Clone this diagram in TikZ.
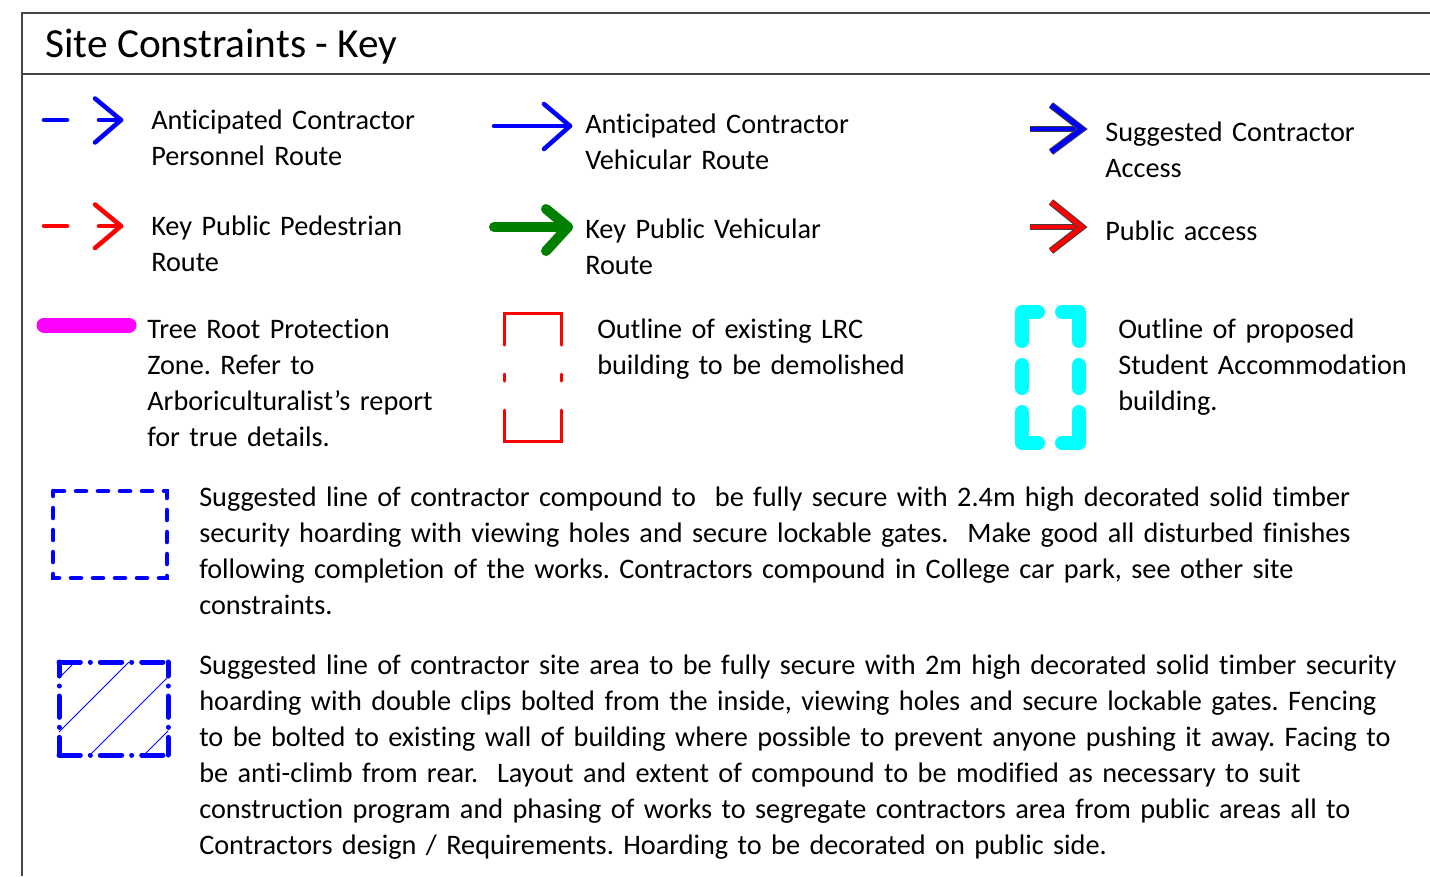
\documentclass[tikz,border=0pt]{standalone}
\usepackage{fontspec}
\setmainfont{Carlito}[Ligatures={TeX,NoCommon}]

\definecolor{keyblue}{RGB}{0,0,255}
\definecolor{keyred}{RGB}{255,0,0}
\definecolor{keygreen}{RGB}{0,128,0}
\definecolor{keymagenta}{RGB}{255,0,255}
\definecolor{keycyan}{RGB}{0,255,255}
\definecolor{framegrey}{RGB}{70,70,70}

\tikzset{
  keytext/.style={anchor=base west, inner sep=0pt, align=left, text width=#1,
    font=\fontsize{21.2pt}{27pt}\selectfont},
  keytext/.default=240pt,
  routeline/.style={line width=3.4pt, line cap=round, line join=round},
  accessline/.style={line width=0.8pt, draw=black!75, double distance=3.6pt,
    line cap=butt, line join=miter},
  dashdotline/.style={keyblue, line width=3.75pt, line cap=round,
    dash pattern=on 16pt off 7.5pt on 0.01pt off 7.5pt}
}

\begin{document}
\frenchspacing
\begin{tikzpicture}[x=0.75pt, y=-0.75pt]
\useasboundingbox (0,0) rectangle (1430,876);

        \draw[framegrey, line width=1pt] (1430,13) -- (22,13) -- (22,876);
        \draw[framegrey, line width=1pt] (22,74) -- (1430,74);
        \node[anchor=base west, inner sep=0pt, font=\fontsize{31pt}{37pt}\selectfont] (title) at (45,57) {Site Constraints - Key};

        % routes
        \draw[routeline, keyblue] (44,120) -- (67,120);
        \draw[routeline, keyblue] (99,120) -- (121,120);
        \draw[routeline, keyblue] (95,98.5) -- (121,120) -- (95,142.5);
        \draw[routeline, keyred] (44,226) -- (67,226);
        \draw[routeline, keyred] (99,226) -- (121,226);
        \draw[routeline, keyred] (95,204.5) -- (121,226) -- (95,248);

        \draw[routeline, keyblue] (494,126) -- (570,126);
        \draw[routeline, keyblue] (544,104) -- (570,126) -- (544,149);
        \draw[routeline, keygreen, line width=7.5pt] (494,227) -- (568,227);
        \draw[routeline, keygreen, line width=7.5pt] (546,209) -- (568,227) -- (546,251);

        \draw[accessline, double=keyblue] (1030,129) -- (1080,129);
        \draw[accessline, double=keyblue] (1051,105) -- (1082,129) -- (1051,152);
        \draw[accessline, double=keyred] (1030,227) -- (1080,227);
        \draw[accessline, double=keyred] (1051,202) -- (1082,227) -- (1051,251);

        \node[keytext] (personnel) at (151,129) {Anticipated Contractor\\Personnel Route};
        \node[keytext] (pedestrian) at (151,235) {Key Public Pedestrian\\Route};
        \node[keytext] (vehicular) at (585,133) {Anticipated Contractor\\Vehicular Route};
        \node[keytext] (publicveh) at (585,238) {Key Public Vehicular\\Route};
        \node[keytext] (access) at (1105,141) {Suggested Contractor\\Access};
        \node[keytext] (publicacc) at (1105,240) {Public access};

        % outlines
        \draw[keymagenta, line width=11.25pt, line cap=round] (44,325) -- (129,325);

        \draw[keyred, line width=2.25pt, line cap=round] (504,345) -- (504,313) -- (561,313) -- (561,345);
        \draw[keyred, line width=2.25pt, line cap=round] (504,374) -- (504,381);
        \draw[keyred, line width=2.25pt, line cap=round] (561,374) -- (561,381);
        \draw[keyred, line width=2.25pt, line cap=round] (504,410) -- (504,441) -- (561,441) -- (561,410);

        \draw[keycyan, line width=10.5pt, line cap=round, line join=round] (1022,341) -- (1022,312) -- (1038,312);
        \draw[keycyan, line width=10.5pt, line cap=round, line join=round] (1062,312) -- (1079,312) -- (1079,341);
        \draw[keycyan, line width=10.5pt, line cap=round] (1022,365) -- (1022,388);
        \draw[keycyan, line width=10.5pt, line cap=round] (1079,365) -- (1079,388);
        \draw[keycyan, line width=10.5pt, line cap=round, line join=round] (1022,412) -- (1022,443) -- (1038,443);
        \draw[keycyan, line width=10.5pt, line cap=round, line join=round] (1062,443) -- (1079,443) -- (1079,412);

        \node[keytext] (rootzone) at (147,338) {Tree Root Protection\\Zone. Refer to\\Arboriculturalist's report\\for true details.};
        \node[keytext] (existing) at (597,338) {Outline of existing LRC\\building to be demolished};
        \node[keytext=260pt] (proposed) at (1118,338) {Outline of proposed\\Student Accommodation\\building.};

        % compound and site area
        \draw[keyblue, line width=3.4pt, line cap=round, dash pattern=on 7.5pt off 9pt, dash phase=3.75pt] (53,491) rectangle (167,578);

        \begin{scope}
          \clip (59,662) rectangle (168,755);
          \foreach \c in {737,791,845,899}
            \draw[keyblue, line width=0.6pt] (\c-800,800) -- (\c-600,600);
        \end{scope}
        \draw[dashdotline] (59,662) -- (168,662);
        \draw[dashdotline] (59,755) -- (168,755);
        \draw[dashdotline, dash phase=5.5pt] (59,662) -- (59,755);
        \draw[dashdotline, dash phase=5.5pt] (168,662) -- (168,755);

        \node[keytext=945pt] (compound) at (199,506) {Suggested line of contractor compound to\ \ be fully secure with 2.4m high decorated solid timber\\security hoarding with viewing holes and secure lockable gates.\ \ Make good all disturbed finishes\\following completion of the works. Contractors compound in College car park, see other site\\constraints.};
        \node[keytext=945pt] (sitearea) at (199,674) {Suggested line of contractor site area to be fully secure with 2m high decorated solid timber security\\hoarding with double clips bolted from the inside, viewing holes and secure lockable gates. Fencing\\to be bolted to existing wall of building where possible to prevent anyone pushing it away. Facing to\\be anti-climb from rear.\ \ Layout and extent of compound to be modified as necessary to suit\\construction program and phasing of works to segregate contractors area from public areas all to\\Contractors design / Requirements. Hoarding to be decorated on public side.};
\end{tikzpicture}
\end{document}
